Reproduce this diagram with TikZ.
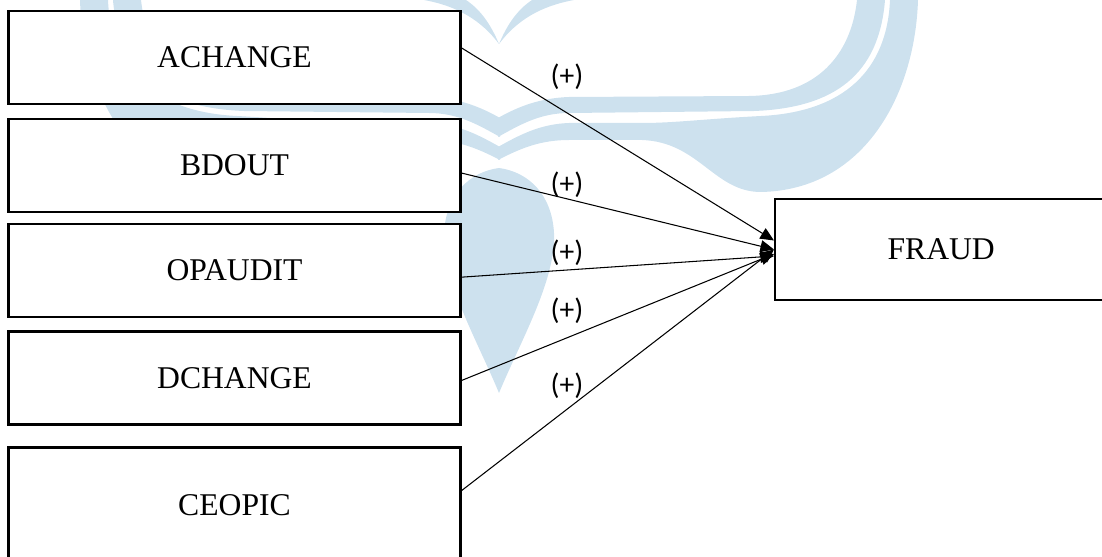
\documentclass[tikz,border=0pt]{standalone}
\usepackage{fontspec}
\setmainfont{Liberation Serif}
\newfontfamily\signfont{Carlito}
\usepackage{xcolor}
\usetikzlibrary{arrows.meta,positioning,calc}
\definecolor{markblue}{RGB}{205,225,238}

\begin{document}
\begin{tikzpicture}[
    x=0.025cm, y=-0.025cm,
    node distance=0.3cm,
    box/.style={rectangle, draw, line width=1.6pt, fill=white, minimum width=11.3cm, minimum height=2.325cm, inner sep=0pt, font=\fontsize{22.5}{27}\selectfont},
    sign/.style={inner sep=0pt, font=\signfont\fontsize{21}{25}\selectfont},
    arr/.style={-{Triangle[length=0.34cm,width=0.3cm]}, line width=0.75pt}
]
\useasboundingbox (0,0) rectangle (1102,557);
\foreach \s in {1,-1} {
  \begin{scope}[shift={(499,0)}, xscale=\s]
    \fill[markblue] (358,0) .. controls (352,55) and (318,95) .. (250,96) -- (70,97) .. controls (42,98) and (20,106) .. (-1,118) -- (-1,137) .. controls (22,124) and (42,113) .. (70,113) -- (255,111) .. controls (335,108) and (380,75) .. (386,0) -- cycle;
    \fill[markblue] (391,0) .. controls (388,70) and (345,112) .. (262,116) .. controls (205,119) and (175,123) .. (143,123) -- (70,123) .. controls (42,124) and (22,134) .. (-1,147) -- (-1,160) .. controls (22,148) and (42,140) .. (70,140) -- (143,140) .. controls (200,142) and (215,192) .. (262,192) .. controls (365,190) and (416,95) .. (419,0) -- cycle;
    \fill[markblue] (0,44) .. controls (18,20) and (42,6) .. (75,0) -- (33,0) .. controls (18,10) and (8,25) .. (0,44) -- cycle;
  \end{scope}
}
\fill[markblue] (499,168) .. controls (529,172) and (552,195) .. (554,233) .. controls (556,280) and (521,340) .. (499,393) .. controls (477,340) and (442,280) .. (444,233) .. controls (446,195) and (469,172) .. (499,168) -- cycle;

\node[box] (achange) at (234.5,57.5) {ACHANGE};
\node[box, below=0.32cm of achange] (bdout) {BDOUT};
\node[box, below=0.245cm of bdout] (opaudit) {OPAUDIT};
\node[box, below=of opaudit] (dchange) {DCHANGE};
\node[box, below=0.52cm of dchange, minimum height=2.9cm] (ceopic) {CEOPIC};
\node[box, anchor=west, minimum width=8.3cm, minimum height=2.525cm] (fraud) at (774,249.5) {FRAUD};

\draw[arr] ($(achange.east)+(0,-9.5)$) -- ($(fraud.west)+(0,-9)$);
\draw[arr] ($(bdout.east)+(0,7.5)$) -- (fraud.west);
\draw[arr] ($(opaudit.east)+(0,6.5)$) -- ($(fraud.west)+(0,6.5)$);
\draw[arr] ($(dchange.east)+(0,2.5)$) -- ($(fraud.west)+(0,4.5)$);
\draw[arr] ($(ceopic.east)+(0,-15)$) -- ($(fraud.west)+(0,0)$);

\node[sign] (signa) at (567,77) {(+)};
\node[sign] (signb) at (567,185) {(+)};
\node[sign] (signc) at (567,253) {(+)};
\node[sign] (signd) at (567,311) {(+)};
\node[sign] (signe) at (567,386) {(+)};
\end{tikzpicture}
\end{document}
